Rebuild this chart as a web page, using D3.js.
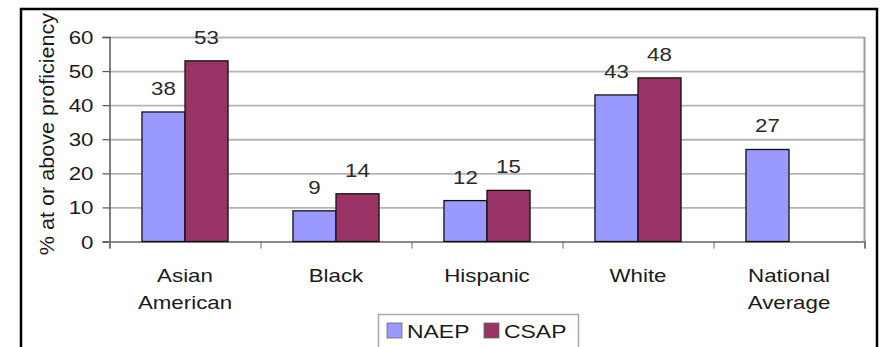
<!DOCTYPE html>
<html>
<head>
<meta charset="utf-8">
<script src="https://cdn.jsdelivr.net/npm/d3@7"></script>
<style>
  html, body { margin: 0; padding: 0; background: #fff; }
  svg { display: block; }
  text { font-family: "Liberation Sans", Arial, sans-serif; fill: #1a1a1a; }
</style>
</head>
<body>
<svg id="chart" width="884" height="347"></svg>
<script>
// Proficiency by group: NAEP vs CSAP
const categories = ["Asian American", "Black", "Hispanic", "White", "National Average"];
const naepValues = [38, 9, 12, 43, 27];
const csapValues = [53, 14, 15, 48, null];
const seriesNames = ["NAEP", "CSAP"];
const seriesColors = ["#9999ff", "#993366"];
const yTickValues = [0, 10, 20, 30, 40, 50, 60];
const yTitle = "% at or above proficiency";

const svg = d3.select("#chart");
const FS = 18;        // font size
const SX = 1.24;      // horizontal stretch of the text face

const plot = { left: 109.5, right: 864.5, top: 37, bottom: 241.5 };

const x = d3.scaleBand().domain(categories).range([plot.left, plot.right]).padding(0);
const y = d3.scaleLinear().domain([0, 60]).range([plot.bottom, plot.top]);
const barW = x.bandwidth() * 0.285;

// helper: horizontally stretched text
function label(g, px, py, str, anchor, size) {
  return g.append("text")
    .attr("transform", `translate(${px},${py}) scale(${SX},1)`)
    .attr("text-anchor", anchor || "middle")
    .style("font-size", (size || FS) + "px")
    .text(str);
}

// outer frame
svg.append("rect")
  .attr("x", 21).attr("y", 9).attr("width", 856).attr("height", 380)
  .attr("fill", "none").attr("stroke", "#000").attr("stroke-width", 2.5);

// gridlines
svg.append("g")
  .attr("transform", `translate(${plot.left},0)`)
  .call(d3.axisLeft(y).tickValues(yTickValues.slice(1)).tickSize(-(plot.right - plot.left)).tickFormat(""))
  .call(g => g.select(".domain").remove())
  .call(g => g.selectAll(".tick line").attr("stroke", "#b4b4b4").attr("stroke-width", 1.8));

// right edge of the plot area
svg.append("line")
  .attr("x1", plot.right).attr("x2", plot.right)
  .attr("y1", plot.top).attr("y2", plot.bottom)
  .attr("stroke", "#9a9a9a").attr("stroke-width", 2);

// y axis with ticks and labels
const yAxis = svg.append("g")
  .attr("transform", `translate(${plot.left},0)`)
  .call(d3.axisLeft(y).tickValues(yTickValues).tickSize(7).tickPadding(9))
  .call(g => g.select(".domain").attr("stroke", "#555").attr("stroke-width", 1.5))
  .call(g => g.selectAll(".tick line").attr("stroke", "#555").attr("stroke-width", 1.2));
yAxis.selectAll(".tick text")
  .attr("x", null).attr("dy", null)
  .attr("transform", `translate(-16,6.5) scale(${SX},1)`)
  .attr("fill", "#1a1a1a")
  .style("font-size", FS + "px")
  .style("font-family", "'Liberation Sans', Arial, sans-serif");

// x axis: baseline with ticks on category boundaries
const xEdges = d3.scaleLinear().domain([0, categories.length]).range([plot.left, plot.right]);
svg.append("g")
  .attr("transform", `translate(0,${plot.bottom})`)
  .call(d3.axisBottom(xEdges).tickValues(d3.range(categories.length + 1)).tickSize(7).tickFormat(""))
  .call(g => g.select(".domain").attr("stroke", "#8a8a8a").attr("stroke-width", 2))
  .call(g => g.selectAll(".tick line").attr("stroke", "#666").attr("stroke-width", 1));

// bars
const rows = categories.map((c, i) => ({ cat: c, vals: [naepValues[i], csapValues[i]] }));
const groups = svg.append("g").selectAll("g").data(rows).join("g");
groups.each(function (d) {
  const g = d3.select(this);
  const cx = x(d.cat) + x.bandwidth() / 2;
  d.vals.forEach((v, s) => {
    if (v == null) return;
    const bx = cx - barW + s * barW;
    g.append("rect")
      .attr("x", bx).attr("y", y(v))
      .attr("width", barW).attr("height", y(0) - y(v))
      .attr("fill", seriesColors[s])
      .attr("stroke", "#111").attr("stroke-width", 1.3);
    label(g, bx + barW / 2, y(v) - 17, String(v), "middle").style("fill", "#2a2a2a");
  });
});

// category labels
rows.forEach(d => {
  const cx = x(d.cat) + x.bandwidth() / 2;
  const words = d.cat.split(" ");
  words.forEach((w, i) => label(svg, cx, 282 + i * 27, w, "middle"));
});

// y axis title
svg.append("text")
  .attr("transform", `translate(54,134) rotate(-90) scale(1.08,1)`)
  .attr("text-anchor", "middle")
  .style("font-size", "20px")
  .text(yTitle);

// legend
const lg = svg.append("g");
lg.append("rect")
  .attr("x", 378.5).attr("y", 314.5).attr("width", 200).attr("height", 60)
  .attr("fill", "#fff").attr("stroke", "#aaa").attr("stroke-width", 1.5);
const legendX = [387, 484];
seriesNames.forEach((n, i) => {
  lg.append("rect")
    .attr("x", legendX[i]).attr("y", 323).attr("width", 15).attr("height", 15)
    .attr("fill", seriesColors[i]).attr("stroke", "#666").attr("stroke-width", 0.8);
  label(lg, legendX[i] + 20, 337.5, n, "start", 18.5);
});
</script>
</body>
</html>
